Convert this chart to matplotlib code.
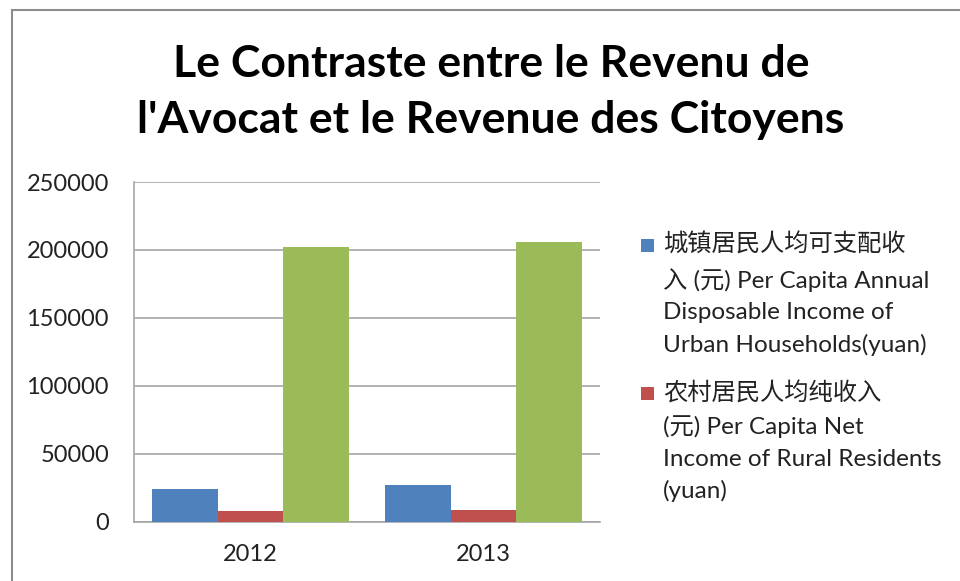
import numpy as np
import matplotlib
matplotlib.use("Agg")
import matplotlib.pyplot as plt
from matplotlib.patches import Rectangle

plt.rcParams['font.family'] = ['Lato', 'Noto Sans CJK SC', 'DejaVu Sans']

years = ["2012", "2013"]
urban = [24565, 26955]        # 城镇居民人均可支配收入
rural = [7917, 8896]          # 农村居民人均纯收入
lawyer = [202000, 206000]     # avocat
labels = ["城镇居民人均可支配收\n入 (元) Per Capita Annual\nDisposable Income of\nUrban Households(yuan)",
          "农村居民人均纯收入\n(元) Per Capita Net\nIncome of Rural Residents\n(yuan)"]
colors = ["#4F81BD", "#C0504D", "#9BBB59"]
title = "Le Contraste entre le Revenu de\nl'Avocat et le Revenue des Citoyens"

fig = plt.figure(figsize=(9.6, 5.81), dpi=100)
fig.patches.append(Rectangle((12 / 960, -0.1), 1.2, (581 - 10) / 581 + 0.1,
                             transform=fig.transFigure, fill=False,
                             edgecolor="#8C8C8C", lw=1.5))

ax = fig.add_axes([134 / 960, 1 - 522 / 581, 466 / 960, 340 / 581])
x = np.arange(len(years))
w = 0.281
bars = []
for i, vals in enumerate([urban, rural, lawyer]):
    bars.append(ax.bar(x + (i - 1) * w, vals, w, color=colors[i], zorder=3))

ax.set_xlim(-0.5, 1.5)
ax.set_ylim(0, 250000)
ax.set_yticks(np.arange(0, 250001, 50000))
ax.set_xticks(x)
ax.set_xticklabels(years)
ax.grid(axis="y", color="#A6A6A6", lw=1.2, zorder=0)
for s in ["top", "right"]:
    ax.spines[s].set_visible(False)
for s in ["left", "bottom"]:
    ax.spines[s].set_color("#A6A6A6")
    ax.spines[s].set_linewidth(1.2)
ax.tick_params(axis="y", length=0, pad=18, labelsize=17, labelcolor="#222222")
ax.tick_params(axis="x", length=0, pad=16, labelsize=17, labelcolor="#222222")

fig.text(491 / 960, 1 - 92 / 581, title, ha="center", va="center",
         fontsize=32, fontweight="bold", linespacing=1.5)

# legend (only first two series visible)
leg_y = [245, 393]
for i, (lab, y) in enumerate(zip(labels, leg_y)):
    fig.patches.append(Rectangle((641 / 960, 1 - (y + 7) / 581), 13 / 960, 13 / 581,
                                 transform=fig.transFigure,
                                 facecolor=bars[i].patches[0].get_facecolor(),
                                 edgecolor="none"))
    fig.text(663 / 960, 1 - (y - 12) / 581, lab, ha="left", va="top",
             fontsize=17.5, linespacing=1.6, color="#222222")

fig.savefig("out.png", dpi=100)
